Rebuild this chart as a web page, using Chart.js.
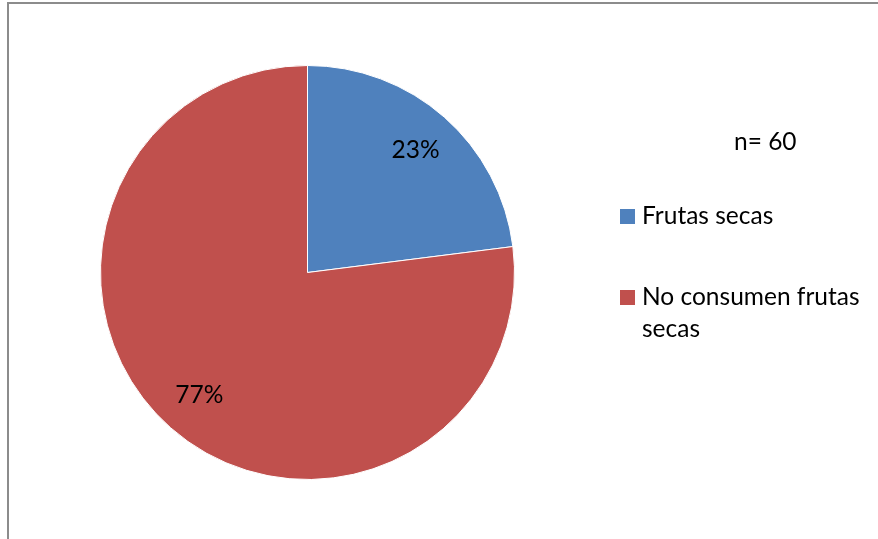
<!DOCTYPE html>
<html>
<head>
<meta charset="utf-8">
<script src="https://cdn.jsdelivr.net/npm/chart.js@4.4.1/dist/chart.umd.min.js"></script>
<style>
  html, body { margin: 0; padding: 0; background: #fff; }
  #wrap { position: relative; width: 878px; height: 539px; overflow: hidden; }
  #frame {
    position: absolute; left: 7px; top: 2px; width: 900px; height: 560px;
    border-left: 2px solid #8c8c8c; border-top: 2px solid #8c8c8c;
  }
  canvas { position: absolute; left: 0; top: 0; }
</style>
</head>
<body>
<div id="wrap">
  <div id="frame"></div>
  <canvas id="pie" width="878" height="539"></canvas>
</div>
<script>
const categories = ['Frutas secas', 'No consumen frutas secas'];
const legendLines = [['Frutas secas'], ['No consumen frutas', 'secas']];
const percentages = [23, 77];
const sampleNote = 'n= 60';
const sliceColors = ['#4F81BD', '#C0504D'];

const fontFamily = 'Lato, "Open Sans", "Liberation Sans", sans-serif';

// percent labels inside each slice plus the legend on the right
const pieText = {
  id: 'pieText',
  afterDraw(chart) {
    const ctx = chart.ctx;
    const meta = chart.getDatasetMeta(0);
    ctx.save();
    ctx.fillStyle = '#000';
    ctx.font = '24.5px ' + fontFamily;
    ctx.textAlign = 'center';
    ctx.textBaseline = 'middle';
    meta.data.forEach((arc, i) => {
      const p = arc.getProps(['x', 'y', 'startAngle', 'endAngle', 'outerRadius'], true);
      const mid = (p.startAngle + p.endAngle) / 2;
      const r = p.outerRadius * 0.79;
      ctx.fillText(percentages[i] + '%', p.x + Math.cos(mid) * r, p.y + Math.sin(mid) * r);
    });

    ctx.textAlign = 'left';
    ctx.textBaseline = 'alphabetic';
    ctx.fillText(sampleNote, 734, 150);

    const rows = [224, 305];
    legendLines.forEach((lines, i) => {
      ctx.fillStyle = sliceColors[i];
      ctx.fillRect(620, rows[i] - 15, 15, 15);
      ctx.fillStyle = '#000';
      lines.forEach((t, j) => ctx.fillText(t, 642, rows[i] + j * 32));
    });
    ctx.restore();
  }
};

new Chart(document.getElementById('pie'), {
  type: 'pie',
  data: {
    labels: categories,
    datasets: [{
      data: percentages,
      backgroundColor: sliceColors,
      borderColor: '#ffffff',
      borderWidth: 1
    }]
  },
  options: {
    responsive: false,
    animation: false,
    layout: { padding: { left: 100, right: 363, top: 65, bottom: 59 } },
    plugins: {
      legend: { display: false },
      tooltip: { enabled: false }
    }
  },
  plugins: [pieText]
});
</script>
</body>
</html>
